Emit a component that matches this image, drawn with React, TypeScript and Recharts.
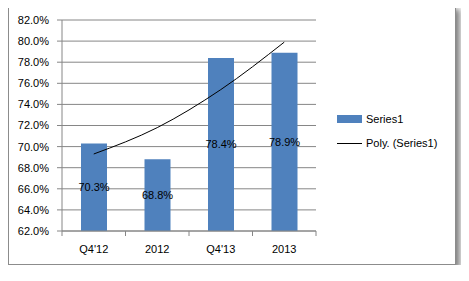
import { Bar, CartesianGrid, ComposedChart, LabelList, Legend, Line, XAxis, YAxis } from "recharts";

const categories = ["Q4'12", "2012", "Q4'13", "2013"];
const series1 = [70.3, 68.8, 78.4, 78.9];
// polynomial trendline at each category
const polyTrend = [69.3, 71.8, 75.4, 79.9];
const yTicks = [62, 64, 66, 68, 70, 72, 74, 76, 78, 80, 82];

const data = categories.map((name, i) => ({ name, value: series1[i], trend: polyTrend[i] }));

const W = 446;
const H = 258;
const MARGIN = { top: 14, right: 139, bottom: 0, left: 0 };
const Y_WIDTH = 53;
const HALF_BAND = (W - MARGIN.right - Y_WIDTH) / categories.length / 2;
const AXIS_GRAY = "#868686";
const FONT = "'Liberation Sans', Arial, sans-serif";

function pct(v: unknown) {
  return `${Number(v).toFixed(1)}%`;
}

function CategoryTick(props: any) {
  const { x, y, payload, index } = props;
  const axisY = y - 8;
  return (
    <g>
      <line x1={x - HALF_BAND} x2={x - HALF_BAND} y1={axisY} y2={axisY + 5} stroke={AXIS_GRAY} />
      {index === categories.length - 1 ? (
        <line x1={x + HALF_BAND} x2={x + HALF_BAND} y1={axisY} y2={axisY + 5} stroke={AXIS_GRAY} />
      ) : null}
      <text x={x} y={axisY + 18} textAnchor="middle" dominantBaseline="central" fontSize={11} fill="#000">
        {payload.value}
      </text>
    </g>
  );
}

function LegendBox() {
  return (
    <div style={{ fontSize: 11, color: "#000", lineHeight: "14px" }}>
      <div style={{ display: "flex", alignItems: "center", height: 14 }}>
        <span style={{ display: "inline-block", width: 25, height: 8, background: "#4F81BD", marginRight: 4 }} />
        Series1
      </div>
      <div style={{ display: "flex", alignItems: "center", height: 14, marginTop: 10 }}>
        <span style={{ display: "inline-block", width: 25, height: 1, background: "#000", marginRight: 4 }} />
        Poly. (Series1)
      </div>
    </div>
  );
}

export default function App() {
  return (
    <div
      style={{
        marginTop: -3,
        width: W,
        height: H,
        border: "1px solid #8c8c8c",
        boxShadow: "4px 4px 6px rgba(0,0,0,0.5)",
        background: "#fff",
        fontFamily: FONT,
      }}
    >
      <ComposedChart width={W} height={H} data={data} margin={MARGIN}>
        <CartesianGrid vertical={false} stroke={AXIS_GRAY} />
        <XAxis
          dataKey="name"
          height={33}
          stroke={AXIS_GRAY}
          tickLine={false}
          tickSize={5}
          tickMargin={3}
          tick={<CategoryTick />}
          interval={0}
        />
        <YAxis
          width={Y_WIDTH}
          domain={[62, 82]}
          ticks={yTicks}
          tickFormatter={pct}
          stroke={AXIS_GRAY}
          tickSize={5}
          tickMargin={8}
          tick={{ fill: "#000", fontSize: 11 }}
          interval={0}
        />
        <Bar dataKey="value" fill="#4F81BD" barSize={26} isAnimationActive={false}>
          <LabelList dataKey="value" position="center" formatter={pct} fill="#000" fontSize={11} />
        </Bar>
        <Line
          dataKey="trend"
          type="monotone"
          stroke="#000"
          strokeWidth={1}
          dot={false}
          activeDot={false}
          isAnimationActive={false}
        />
        <Legend
          layout="vertical"
          align="center"
          verticalAlign="middle"
          content={<LegendBox />}
          wrapperStyle={{ position: "absolute", left: 328, top: 106, width: 110, height: 40 }}
        />
      </ComposedChart>
    </div>
  );
}
